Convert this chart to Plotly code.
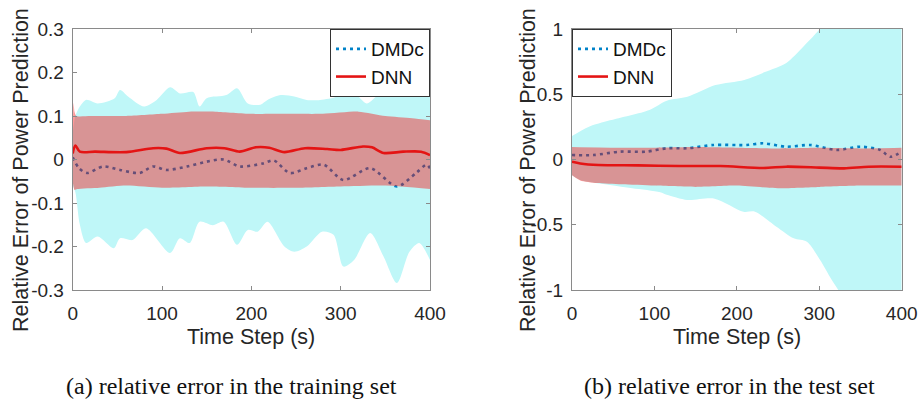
import plotly.graph_objects as go

# ---------------- data ----------------
# (a) training set
tr_dmdc_t = [0, 7, 16, 34, 53, 75, 90, 105, 128, 150, 169, 187, 213, 225, 243, 262, 281, 303, 333, 363, 385, 396, 400]
tr_dmdc_mean = [0.005, -0.02, -0.031, -0.016, -0.024, -0.031, -0.016, -0.024, -0.016, -0.005, 0.0, -0.016,
                -0.009, -0.002, -0.031, -0.02, -0.012, -0.047, -0.02, -0.062, -0.03, -0.012, -0.02]
tr_dmdc_up_t = [0, 3, 8, 15, 28, 47, 53, 62, 80, 94, 109, 120, 135, 142, 150, 172, 184, 196, 210, 218, 233,
                248, 262, 277, 296, 307, 318, 329, 344, 359, 377, 388, 400]
tr_dmdc_up = [0.06, 0.10, 0.122, 0.137, 0.129, 0.141, 0.16, 0.145, 0.122, 0.137, 0.166, 0.152, 0.155, 0.122,
              0.141, 0.148, 0.164, 0.129, 0.126, 0.137, 0.148, 0.145, 0.137, 0.137, 0.145, 0.16, 0.148, 0.129,
              0.152, 0.164, 0.152, 0.16, 0.183]
tr_dmdc_lo_t = [0, 3, 8, 15, 28, 46, 53, 67, 82, 109, 120, 131, 142, 157, 169, 184, 196, 207, 218, 237, 248,
                262, 279, 292, 303, 315, 333, 348, 363, 377, 388, 400]
tr_dmdc_lo = [-0.06, -0.075, -0.15, -0.192, -0.177, -0.204, -0.181, -0.185, -0.158, -0.215, -0.181, -0.192,
              -0.143, -0.151, -0.143, -0.196, -0.162, -0.166, -0.143, -0.2, -0.212, -0.2, -0.166, -0.173,
              -0.246, -0.231, -0.169, -0.223, -0.284, -0.212, -0.192, -0.231]
tr_dnn_t = [0, 3, 8, 25, 60, 90, 105, 120, 150, 170, 187, 205, 220, 237, 260, 285, 300, 325, 335, 348, 370, 390, 400]
tr_dnn_mean = [0.014, 0.032, 0.018, 0.018, 0.017, 0.026, 0.025, 0.015, 0.026, 0.026, 0.018, 0.028, 0.027,
               0.017, 0.026, 0.024, 0.022, 0.03, 0.028, 0.015, 0.018, 0.018, 0.01]
tr_dnn_up_t = [0, 1, 2, 4, 20, 60, 100, 130, 160, 200, 240, 280, 320, 350, 380, 400]
tr_dnn_up = [0.06, 0.13, 0.11, 0.10, 0.10, 0.10, 0.105, 0.11, 0.11, 0.105, 0.105, 0.105, 0.11, 0.10, 0.095, 0.09]
tr_dnn_lo_t = [0, 2, 5, 30, 60, 100, 150, 200, 250, 300, 350, 400]
tr_dnn_lo = [-0.05, -0.07, -0.068, -0.065, -0.06, -0.065, -0.062, -0.065, -0.065, -0.062, -0.06, -0.068]

# (b) test set
te_dmdc_t = [0, 26, 58, 90, 115, 140, 171, 212, 232, 260, 289, 321, 350, 374, 386, 400]
te_dmdc_mean = [0.034, 0.034, 0.06, 0.06, 0.086, 0.086, 0.111, 0.111, 0.124, 0.098, 0.111, 0.073, 0.098,
                0.073, 0.021, 0.06]
te_dmdc_up_t = [0, 20, 46, 94, 115, 140, 174, 209, 234, 260, 280, 298, 320, 360, 400]
te_dmdc_up = [0.18, 0.25, 0.30, 0.38, 0.45, 0.48, 0.57, 0.61, 0.67, 0.74, 0.86, 0.98, 1.15, 1.5, 1.9]
te_dmdc_lo_t = [0, 10, 46, 73, 107, 115, 140, 173, 208, 222, 248, 269, 285, 301, 313, 325, 360, 400]
te_dmdc_lo = [-0.12, -0.157, -0.195, -0.22, -0.25, -0.27, -0.31, -0.3, -0.4, -0.4, -0.515, -0.604, -0.63,
              -0.77, -0.9, -1.02, -1.4, -1.8]
te_dnn_t = [0, 10, 32, 80, 130, 180, 232, 260, 300, 330, 360, 400]
te_dnn_mean = [-0.017, -0.03, -0.042, -0.045, -0.05, -0.05, -0.065, -0.055, -0.062, -0.068, -0.055, -0.055]
te_dnn_up_t = [0, 50, 100, 150, 200, 250, 300, 350, 400]
te_dnn_up = [0.095, 0.09, 0.09, 0.095, 0.09, 0.085, 0.09, 0.085, 0.09]
te_dnn_lo_t = [0, 10, 30, 60, 100, 150, 200, 250, 300, 350, 400]
te_dnn_lo = [-0.12, -0.16, -0.18, -0.19, -0.2, -0.21, -0.2, -0.22, -0.21, -0.2, -0.2]

x_ticks = [0, 100, 200, 300, 400]
x_ticktext = ["0", "100", "200", "300", "400"]
y1_ticks = [-0.3, -0.2, -0.1, 0, 0.1, 0.2, 0.3]
y1_ticktext = ["-0.3", "-0.2", "-0.1", "0", "0.1", "0.2", "0.3"]
y2_ticks = [-1, -0.5, 0, 0.5, 1]
y2_ticktext = ["-1", "-0.5", "0", "0.5", "1"]

series_names = ["DMDc", "DNN"]
x_title = "Time Step (s)"
y_title = "Relative Error of Power Prediction"
captions = ["(a) relative error in the training set", "(b) relative error in the test set"]

# ---------------- styles ----------------
CYAN = "#bff7f8"
RED_FILL = "rgba(255,0,0,0.4)"
BLUE = "rgb(0,130,200)"
RED = "rgb(228,20,20)"
FONT = "Liberation Sans, Arial, sans-serif"
AX = "#8a8a8a"
TXT = "#262626"

fig = go.Figure()


def add_panel(xa, ya, legend, dm_t, dm_m, dm_ut, dm_u, dm_lt, dm_l, dn_t, dn_m, dn_ut, dn_u, dn_lt, dn_l):
    common = dict(xaxis=xa, yaxis=ya, hoverinfo="skip")
    fig.add_trace(go.Scatter(x=dm_lt, y=dm_l, mode="lines", line=dict(width=0, shape="spline", smoothing=0.8),
                             showlegend=False, **common))
    fig.add_trace(go.Scatter(x=dm_ut, y=dm_u, mode="lines", line=dict(width=0, shape="spline", smoothing=0.8),
                             fill="tonexty", fillcolor=CYAN, showlegend=False, **common))
    fig.add_trace(go.Scatter(x=dm_t, y=dm_m, mode="lines", name=series_names[0], legend=legend,
                             line=dict(color=BLUE, width=2.6, dash="3px,4px", shape="spline", smoothing=0.8),
                             **common))
    fig.add_trace(go.Scatter(x=dn_lt, y=dn_l, mode="lines", line=dict(width=0, shape="spline", smoothing=0.6),
                             showlegend=False, **common))
    fig.add_trace(go.Scatter(x=dn_ut, y=dn_u, mode="lines", line=dict(width=0, shape="spline", smoothing=0.6),
                             fill="tonexty", fillcolor=RED_FILL, showlegend=False, **common))
    fig.add_trace(go.Scatter(x=dn_t, y=dn_m, mode="lines", name=series_names[1], legend=legend,
                             line=dict(color=RED, width=2.6, shape="spline", smoothing=0.8), **common))


add_panel("x", "y", "legend", tr_dmdc_t, tr_dmdc_mean, tr_dmdc_up_t, tr_dmdc_up, tr_dmdc_lo_t, tr_dmdc_lo,
          tr_dnn_t, tr_dnn_mean, tr_dnn_up_t, tr_dnn_up, tr_dnn_lo_t, tr_dnn_lo)
add_panel("x2", "y2", "legend2", te_dmdc_t, te_dmdc_mean, te_dmdc_up_t, te_dmdc_up, te_dmdc_lo_t, te_dmdc_lo,
          te_dnn_t, te_dnn_mean, te_dnn_up_t, te_dnn_up, te_dnn_lo_t, te_dnn_lo)

W, H = 920, 400
d1 = [72.7 / W, 430 / W]
d2 = [572 / W, 901.7 / W]
dy = [1 - 290 / H, 1 - 29 / H]

xax = dict(range=[0, 400], tickvals=x_ticks, ticktext=x_ticktext, ticks="inside", ticklen=4, tickcolor=AX,
           showline=True, linecolor=AX, linewidth=1, mirror="ticks", showgrid=False, zeroline=False,
           automargin=False, tickfont=dict(family=FONT, size=19, color=TXT), ticklabelstandoff=6)
yax = dict(ticks="inside", ticklen=4, tickcolor=AX, showline=True, linecolor=AX, linewidth=1, mirror="ticks",
           showgrid=False, zeroline=False, automargin=False, tickfont=dict(family=FONT, size=19, color=TXT),
           ticklabelstandoff=4)

leg = dict(y=dy[1], yanchor="top", bgcolor="white", bordercolor="#333", borderwidth=1,
           font=dict(family=FONT, size=19, color="#111"), tracegroupgap=0, itemwidth=30, traceorder="normal")

fig.update_layout(
    width=W, height=H, autosize=False,
    margin=dict(l=0, r=0, t=0, b=0, autoexpand=False),
    paper_bgcolor="white", plot_bgcolor="white",
    xaxis=dict(domain=d1, anchor="y", **xax),
    yaxis=dict(domain=dy, anchor="x", range=[-0.3, 0.3], tickvals=y1_ticks, ticktext=y1_ticktext, **yax),
    xaxis2=dict(domain=d2, anchor="y2", **xax),
    yaxis2=dict(domain=dy, anchor="x2", range=[-1, 1], tickvals=y2_ticks, ticktext=y2_ticktext, **yax),
    legend=dict(x=d1[1], xanchor="right", **leg),
    legend2=dict(x=d2[0], xanchor="left", **leg),
    showlegend=True,
)

ann = []
for d, ytx in ((d1, 21 / W), (d2, 528 / W)):
    ann.append(dict(text=x_title, x=(d[0] + d[1]) / 2, y=1 - 337 / H, xref="paper", yref="paper",
                    showarrow=False, xanchor="center", yanchor="middle",
                    font=dict(family=FONT, size=21.5, color=TXT)))
    ann.append(dict(text=y_title, x=ytx, y=1 - 170 / H, xref="paper", yref="paper", textangle=-90,
                    showarrow=False, xanchor="center", yanchor="middle",
                    font=dict(family=FONT, size=21.5, color=TXT)))
for cx, cap in ((231 / W, captions[0]), (729 / W, captions[1])):
    ann.append(dict(text=cap, x=cx, y=1 - 386 / H, xref="paper", yref="paper", showarrow=False,
                    xanchor="center", yanchor="middle",
                    font=dict(family="Liberation Serif, serif", size=24, color="#111")))
fig.update_layout(annotations=ann)

fig.write_html("out.html", config={"displayModeBar": False},
               post_script="document.body.style.margin='0';document.body.style.overflow='hidden';")
